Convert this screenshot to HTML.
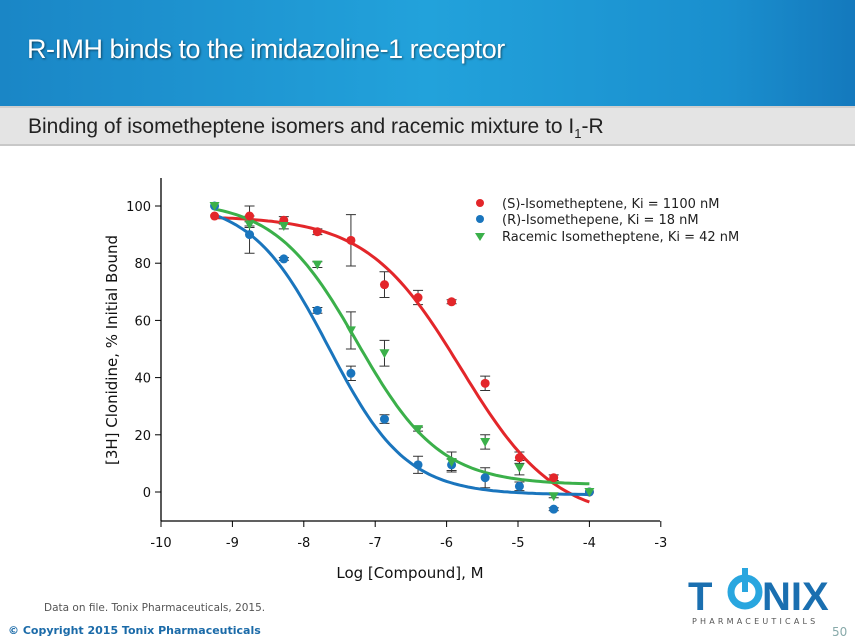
<!DOCTYPE html>
<html><head><meta charset="utf-8"><style>
html,body{margin:0;padding:0;width:855px;height:641px;overflow:hidden;background:#fff;font-family:"Liberation Sans","DejaVu Sans",sans-serif}
#hdr{position:absolute;left:0;top:0;width:855px;height:106px;background:linear-gradient(90deg,#1a86c6 0%,#22a2db 50%,#1a8fce 85%,#1479bd 100%)}
#hdr div{position:absolute;left:27px;top:34px;font-size:27px;color:#fff;text-shadow:1px 1px 2px rgba(0,0,0,.5);letter-spacing:-0.5px}
#sub{position:absolute;left:0;top:106px;width:855px;height:40px;background:#e4e4e4;border-top:2px solid #cfcfcf;border-bottom:2px solid #c8c8c8;box-sizing:border-box}
#sub div{position:absolute;left:28px;top:7px;font-size:21px;color:#222}
svg{position:absolute;left:0;top:0}
</style></head><body>
<div id="hdr"><div>R-IMH binds to the imidazoline-1 receptor</div></div>
<div id="sub"><div>Binding of isometheptene isomers and racemic mixture to I<sub style="font-size:13px">1</sub>-R</div></div>
<svg id="s" width="855" height="641" font-family="DejaVu Sans, Liberation Sans, sans-serif">
<g stroke="#000" stroke-width="1.3" fill="none">
<line x1="161" y1="178" x2="161" y2="521"/>
<line x1="161" y1="521" x2="660" y2="521"/>
</g>
<g id="ticks"></g>
<text x="0" y="0" transform="translate(117,350) rotate(-90)" text-anchor="middle" font-size="15" fill="#111">[3H] Clonidine, % Initial Bound</text>
<text x="410" y="578" text-anchor="middle" font-size="15" fill="#111">Log [Compound], M</text>
<g id="plot"></g>
<circle cx="480" cy="203" r="4" fill="#e3262a"/><text x="502" y="208" font-size="13" fill="#222">(S)-Isometheptene, Ki = 1100 nM</text>
<circle cx="480" cy="219" r="4" fill="#1a75bd"/><text x="502" y="224" font-size="13" fill="#222">(R)-Isomethepene, Ki = 18 nM</text>
<polygon points="475,233 485,233 480,241" fill="#3bb04a"/><text x="502" y="241" font-size="13" fill="#222">Racemic Isometheptene, Ki = 42 nM</text>
<text x="44" y="611" font-size="10.5" fill="#555">Data on file. Tonix Pharmaceuticals, 2015.</text>
<text x="8" y="634" font-size="11" font-weight="bold" fill="#1a6aa8">© Copyright 2015 Tonix Pharmaceuticals</text>
<text x="832" y="636" font-size="12" fill="#8aa">50</text>
<g font-weight="bold" font-size="40" fill="#1a6fb0">
<text x="688" y="610" font-family="Liberation Sans, sans-serif">T</text>
<circle cx="745" cy="592" r="14" fill="none" stroke="#29a6df" stroke-width="7"/>
<rect x="742" y="568" width="6" height="24" fill="#29a6df"/>
<text x="762" y="610" font-family="Liberation Sans, sans-serif">NIX</text>
</g>
<text x="692" y="624" font-size="8" letter-spacing="3.2" fill="#555">PHARMACEUTICALS</text>
</svg>
<script>
const X=x=>161+(x+10)*71.4, Y=v=>492-v*2.86;
let t='';
for(let x=-10;x<=-3;x++){t+=`<line x1="${X(x)}" y1="521" x2="${X(x)}" y2="527" stroke="#000"/><text x="${X(x)}" y="547" text-anchor="middle" font-size="13" fill="#111">${x}</text>`;}
for(let v=0;v<=100;v+=20){t+=`<line x1="155" y1="${Y(v)}" x2="161" y2="${Y(v)}" stroke="#000"/><text x="151" y="${Y(v)+5}" text-anchor="end" font-size="13" fill="#111">${v}</text>`;}
document.getElementById('ticks').innerHTML=t;
const xs=[-9.25,-8.76,-8.28,-7.81,-7.34,-6.87,-6.4,-5.93,-5.46,-4.98,-4.5,-4.0];
const S=[96.5,96.5,95,91,88,72.5,68,66.5,38,12,5,0], Se=[0,3.5,1.3,1,9,4.5,2.5,0.7,2.5,2,1,0];
const R=[100,90,81.5,63.5,41.5,25.5,9.5,9.5,5,2,-6,0], Re=[0,6.5,0.5,1,2.5,1.5,3,2,3.5,1.5,0.5,0];
const G=[100,93.5,93,79.5,56.5,48.5,22,10.5,17.5,8.5,-1.5,0], Ge=[0,1,1,1,6.5,4.5,0.7,3.5,2.5,2.5,0.5,0];
function curve(top,bot,c,h,x0,x1,col){let d='';for(let x=x0;x<=x1+1e-9;x+=0.05){const v=bot+(top-bot)/(1+Math.pow(10,(x-c)*h));d+=(d?'L':'M')+X(x).toFixed(1)+','+Y(v).toFixed(1);}return `<path d="${d}" stroke="${col}" stroke-width="3" fill="none"/>`;}
let p='';
function err(a,e){let s='';xs.forEach((x,i)=>{if(e[i]>0){const px=X(x);s+=`<path d="M${px},${Y(a[i]+e[i])}V${Y(a[i]-e[i])}M${px-5},${Y(a[i]+e[i])}h10M${px-5},${Y(a[i]-e[i])}h10" stroke="#333" stroke-width="1" fill="none"/>`;}});return s;}
p+=err(S,Se)+err(R,Re)+err(G,Ge);
p+=curve(96.5,-10,-5.8,0.66,-9.25,-4.0,'#e3262a');
p+=curve(102,2.5,-7.25,0.75,-9.25,-4.0,'#3bb04a');
p+=curve(102,-1,-7.65,0.8,-9.25,-4.0,'#1a75bd');
xs.forEach((x,i)=>{p+=`<circle cx="${X(x)}" cy="${Y(S[i])}" r="4.5" fill="#e3262a"/>`;});
xs.forEach((x,i)=>{p+=`<circle cx="${X(x)}" cy="${Y(R[i])}" r="4.5" fill="#1a75bd"/>`;});
xs.forEach((x,i)=>{const px=X(x),py=Y(G[i]);p+=`<polygon points="${px-5},${py-4} ${px+5},${py-4} ${px},${py+5}" fill="#3bb04a"/>`;});
document.getElementById('plot').innerHTML=p;
</script>
</body></html>
